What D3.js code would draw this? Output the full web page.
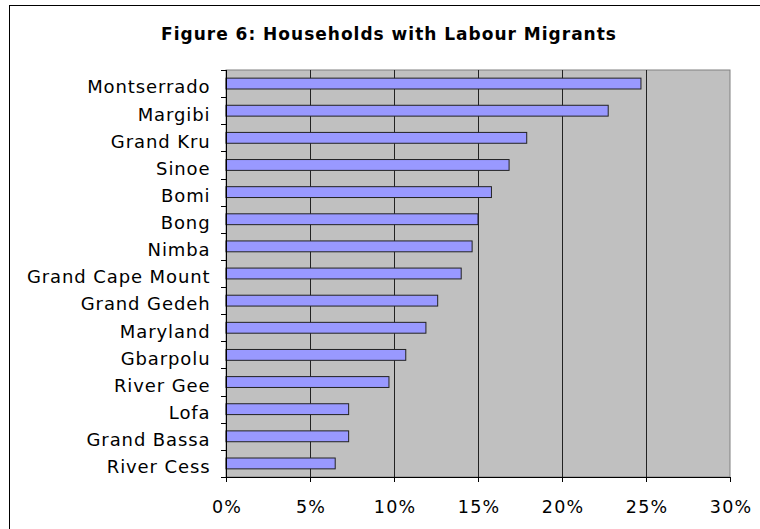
<!DOCTYPE html>
<html>
<head>
<meta charset="utf-8">
<script src="https://cdn.jsdelivr.net/npm/d3@7"></script>
<style>
  html, body { margin: 0; padding: 0; background: #fff; }
  svg { display: block; }
  text { font-family: "DejaVu Sans", Verdana, sans-serif; fill: #000; }
</style>
</head>
<body>
<svg id="chart" width="760" height="529"></svg>
<script>
// Counties, top to bottom
const counties = [
  "Montserrado", "Margibi", "Grand Kru", "Sinoe", "Bomi", "Bong", "Nimba",
  "Grand Cape Mount", "Grand Gedeh", "Maryland", "Gbarpolu", "River Gee",
  "Lofa", "Grand Bassa", "River Cess"
];
// Share of households with labour migrants (%)
const shares = [24.7, 22.75, 17.9, 16.85, 15.8, 15.0, 14.65, 14.0, 12.6, 11.9, 10.7, 9.7, 7.3, 7.3, 6.5];
const xTicks = [0, 5, 10, 15, 20, 25, 30];
const title = "Figure 6: Households with Labour Migrants";

const svg = d3.select("#chart");
const plot = { left: 226, right: 730, top: 70, bottom: 477 };

// outer frame
svg.append("rect")
  .attr("x", 9.5).attr("y", 5.5)
  .attr("width", 760).attr("height", 540)
  .attr("fill", "#fff").attr("stroke", "#000").attr("stroke-width", 1);

svg.append("text")
  .attr("x", 389).attr("y", 40)
  .attr("text-anchor", "middle")
  .style("font-weight", "bold").style("font-size", "17px")
  .style("letter-spacing", "1px")
  .text(title);

const x = d3.scaleLinear().domain([0, 30]).range([plot.left, plot.right]);
const y = d3.scaleBand().domain(counties).range([plot.top, plot.bottom]).paddingInner(0.6).paddingOuter(0.3);
const yEdge = d3.scaleBand().domain(counties).range([plot.top, plot.bottom]);

// plot background
svg.append("rect")
  .attr("x", plot.left).attr("y", plot.top)
  .attr("width", plot.right - plot.left).attr("height", plot.bottom - plot.top)
  .attr("fill", "#c0c0c0").attr("stroke", "#808080").attr("stroke-width", 1);

// vertical gridlines
svg.append("g").selectAll("line")
  .data(xTicks.slice(1, -1))
  .join("line")
  .attr("x1", d => Math.round(x(d)) + 0.5).attr("x2", d => Math.round(x(d)) + 0.5)
  .attr("y1", plot.top).attr("y2", plot.bottom)
  .attr("stroke", "#222").attr("stroke-width", 1);

// bars
svg.append("g").selectAll("rect")
  .data(counties.map((c, i) => ({ c, v: shares[i] })))
  .join("rect")
  .attr("x", x(0))
  .attr("y", d => y(d.c))
  .attr("width", d => x(d.v) - x(0))
  .attr("height", y.bandwidth())
  .attr("fill", "#9999ff").attr("stroke", "#222").attr("stroke-width", 1);

// x axis
const xAxis = d3.axisBottom(x).tickValues(xTicks).tickFormat(d => d + "%").tickSize(5).tickSizeOuter(0).tickPadding(0);
const gx = svg.append("g").attr("transform", `translate(0,${plot.bottom})`).call(xAxis);
gx.select(".domain").attr("stroke", "#000");
gx.selectAll(".tick line").attr("stroke", "#000");
gx.selectAll(".tick text")
  .attr("font-family", null)
  .attr("y", 36).attr("dy", null)
  .attr("dx", "0.6px")
  .style("font-size", "17.5px")
  .style("letter-spacing", "1.2px");

// y axis: ticks at category boundaries
const edges = counties.map(c => yEdge(c)).concat([plot.bottom]);
svg.append("line")
  .attr("x1", plot.left + 0.5).attr("x2", plot.left + 0.5)
  .attr("y1", plot.top).attr("y2", plot.bottom)
  .attr("stroke", "#000");
svg.append("g").selectAll("line")
  .data(edges)
  .join("line")
  .attr("x1", plot.left - 5).attr("x2", plot.left)
  .attr("y1", d => Math.round(d) + 0.5).attr("y2", d => Math.round(d) + 0.5)
  .attr("stroke", "#000");

svg.append("g").selectAll("text")
  .data(counties)
  .join("text")
  .attr("x", 210.5)
  .attr("y", c => yEdge(c) + yEdge.bandwidth() / 2 + 9.8)
  .attr("text-anchor", "end")
  .style("font-size", "18px")
  .style("letter-spacing", "0.9px")
  .text(c => c);
</script>
</body>
</html>
